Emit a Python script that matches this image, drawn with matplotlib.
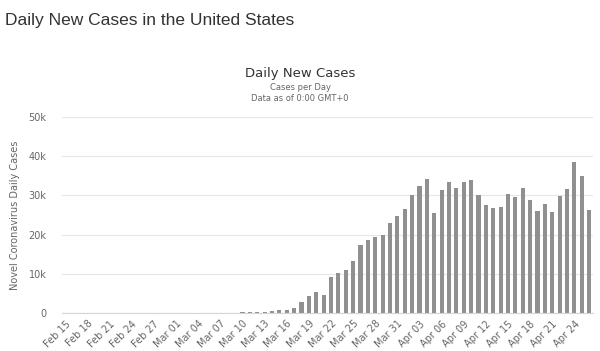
import numpy as np
import matplotlib.pyplot as plt
from datetime import date, timedelta

# daily new cases, Feb 15 .. Apr 26
start = date(2020, 2, 15)
cases = [
    0, 0, 0, 0, 0, 0, 5, 0, 0, 5, 0, 5, 5, 10, 10,          # Feb 15 - Feb 29
    10, 15, 20, 30, 50, 60, 80, 100, 120, 180,             # Mar 01 - Mar 10
    250, 300, 400, 450, 700, 850, 1400, 2800, 4300, 5400,  # Mar 11 - Mar 20
    4600, 9200, 10100, 11000, 13400, 17300, 18500, 19500, 19900, 23000,  # Mar 21 - Mar 30
    24800, 26600, 30100, 32400, 34200, 25500, 31400, 33500, 32000, 33500,  # Mar 31 - Apr 09
    33800, 30100, 27500, 26800, 27000, 30300, 29700, 32000, 28900, 25900,  # Apr 10 - Apr 19
    27900, 25800, 29800, 31600, 38500, 35000, 26200,       # Apr 20 - Apr 26
]
dates = [start + timedelta(days=i) for i in range(len(cases))]
tick_idx = list(range(0, len(cases), 3))
tick_labels = [dates[i].strftime('%b %d') for i in tick_idx]

fig = plt.figure(figsize=(6, 3.51), dpi=100)
ax = fig.add_axes([0.103, 0.108, 0.885, 0.559])

x = np.arange(len(cases))
ax.bar(x, cases, width=0.55, color='#909090', zorder=2)

ax.set_xlim(-0.5, len(cases) - 0.5)
ax.set_ylim(0, 50000)
ax.set_yticks([0, 10000, 20000, 30000, 40000, 50000])
ax.set_yticklabels(['0', '10k', '20k', '30k', '40k', '50k'])
ax.set_xticks(tick_idx)
ax.set_xticklabels(tick_labels, rotation=45, ha='right', rotation_mode='anchor')

ax.grid(axis='y', color='#e6e6e6', linewidth=0.8, zorder=0)
for s in ['top', 'right', 'left']:
    ax.spines[s].set_visible(False)
ax.spines['bottom'].set_color('#ccd6eb')
ax.tick_params(axis='both', length=0, labelsize=7, colors='#666666')
ax.tick_params(axis='y', pad=11)
ax.tick_params(axis='x', pad=4)

ax.set_ylabel('Novel Coronavirus Daily Cases', fontsize=7, color='#666666', labelpad=6)

# titles
fig.text(0.008, 0.943, 'Daily New Cases in the United States', fontsize=12.5,
         family='Liberation Sans', color='#333333', va='center', ha='left')
fig.text(0.5, 0.792, 'Daily New Cases', fontsize=9.5, color='#333333', ha='center', va='center')
fig.text(0.5, 0.752, 'Cases per Day', fontsize=6, color='#666666', ha='center', va='center')
fig.text(0.5, 0.718, 'Data as of 0:00 GMT+0', fontsize=6, color='#666666', ha='center', va='center')

fig.savefig('out.png', dpi=100)
